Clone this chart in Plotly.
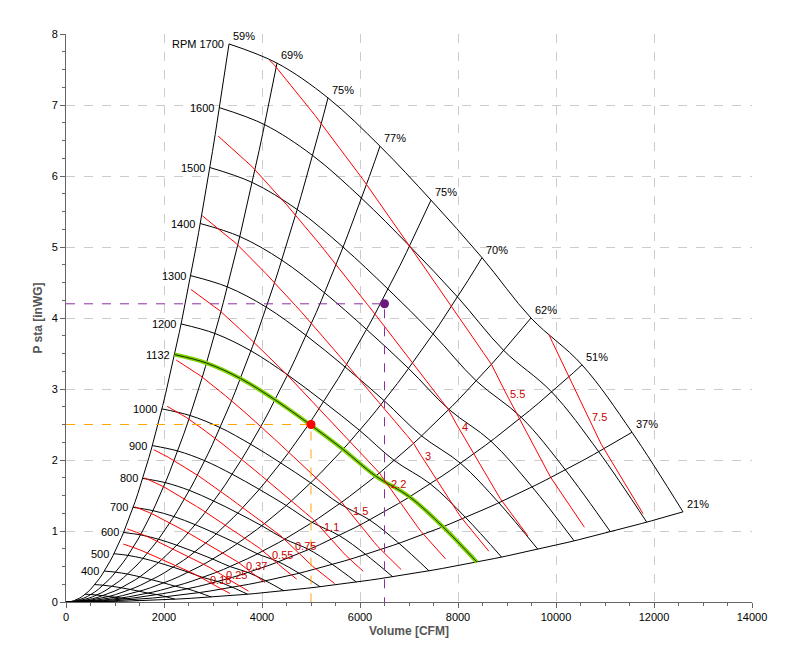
import numpy as np
import plotly.graph_objects as go

# fan curve at 1700 RPM, read at the efficiency lines
eff_labels = ["59%", "69%", "75%", "77%", "75%", "70%", "62%", "51%", "37%", "21%"]
eff_vals = [0.59, 0.69, 0.75, 0.77, 0.75, 0.70, 0.62, 0.51, 0.37, 0.21]
base_q = [3327, 4306, 5347, 6408, 7449, 8490, 9490, 10531, 11551, 12592]
base_p = [7.86, 7.59, 7.10, 6.42, 5.66, 4.85, 4.00, 3.34, 2.39, 1.27]
base_rpm = 1700

rpm_list = [1700, 1600, 1500, 1400, 1300, 1200, 1000, 900, 800, 700, 600, 500, 400, 300, 200, 100]
rpm_labels = ["RPM 1700", "1600", "1500", "1400", "1300", "1200", "1000", "900", "800", "700", "600", "500", "400", "", "", ""]
work_rpm = 1132

power_kw = [0.18, 0.25, 0.37, 0.55, 0.75, 1.1, 1.5, 2.2, 3, 4, 5.5, 7.5]
power_labels = ["0.18", "0.25", "0.37", "0.55", "0.75", "1.1", "1.5", "2.2", "3", "4", "5.5", "7.5"]

op_points = [(5000, 2.5, "orange", "red"), (6500, 4.2, "#8b2fa0", "#6a1b7a")]

bq = np.array(base_q, float)
bp = np.array(base_p, float)
bpow = bq * bp / np.array(eff_vals) / 6356 * 0.7457  # kW at 1700 rpm

fig = go.Figure()


def curve(n):
    r = n / base_rpm
    return bq * r, bp * r * r


# efficiency lines (fan law parabolas)
ns = np.linspace(0, base_rpm, 60)
for i in range(len(bq)):
    r = ns / base_rpm
    fig.add_trace(go.Scatter(x=bq[i] * r, y=bp[i] * r * r, mode="lines",
                             line=dict(color="black", width=1), hoverinfo="skip"))
    fig.add_annotation(x=bq[i], y=bp[i], text=eff_labels[i], showarrow=False,
                       xanchor="left", yanchor="bottom", xshift=2,
                       font=dict(size=11, color="black"))

# rpm curves
for n, lab in zip(rpm_list, rpm_labels):
    q, p = curve(n)
    fig.add_trace(go.Scatter(x=q, y=p, mode="lines", line=dict(color="black", width=1, shape="spline"),
                             hoverinfo="skip"))
    if lab:
        fig.add_annotation(x=q[0], y=p[0], text=lab, showarrow=False, xanchor="right",
                           xshift=-3, font=dict(size=11, color="black"))

q, p = curve(work_rpm)
fig.add_trace(go.Scatter(x=q, y=p, mode="lines", line=dict(color="#7fd400", width=4, shape="spline"),
                         hoverinfo="skip"))
fig.add_trace(go.Scatter(x=q, y=p, mode="lines", line=dict(color="#1a3300", width=1, shape="spline"),
                         hoverinfo="skip"))
fig.add_annotation(x=q[0], y=p[0], text=str(work_rpm), showarrow=False, xanchor="right",
                   xshift=-3, font=dict(size=11, color="black"))

# constant power lines
nfine = np.linspace(50, base_rpm, 400)
for w, lab in zip(power_kw, power_labels):
    xs, ys = [], []
    for n in nfine:
        r = n / base_rpm
        pw = bpow * r ** 3
        if pw[0] <= w <= pw[-1]:
            k = np.interp(w, pw, np.arange(len(pw)))
            xs.append(np.interp(k, np.arange(len(bq)), bq * r))
            ys.append(np.interp(k, np.arange(len(bp)), bp * r * r))
    if not xs:
        continue
    fig.add_trace(go.Scatter(x=xs, y=ys, mode="lines", line=dict(color="red", width=1),
                             hoverinfo="skip"))
    j = int(len(xs) * 0.3)
    fig.add_annotation(x=xs[j], y=ys[j], text=lab, showarrow=False, xanchor="left",
                       xshift=2, font=dict(size=11, color="#cc0000"))

# operating points
for x0, y0, lc, mc in op_points:
    fig.add_trace(go.Scatter(x=[0, x0, x0], y=[y0, y0, 0], mode="lines",
                             line=dict(color=lc, width=1, dash="dash"), hoverinfo="skip"))
    fig.add_trace(go.Scatter(x=[x0], y=[y0], mode="markers",
                             marker=dict(color=mc, size=9), hoverinfo="skip"))

fig.update_layout(
    template="none",
    width=796, height=663, showlegend=False,
    paper_bgcolor="white", plot_bgcolor="white",
    margin=dict(l=58, r=52, t=26, b=69),
    font=dict(family="Arial, Liberation Sans, sans-serif", size=11, color="black"),
)
fig.update_xaxes(range=[0, 14000], dtick=2000, tickformat="d", showline=True, linecolor="#666",
                 showgrid=True, gridcolor="#cccccc", griddash="dash", zeroline=False,
                 ticks="outside", ticklen=5, tickcolor="#666", automargin=False,
                 minor=dict(dtick=500, ticks="outside", ticklen=3, tickcolor="#666", showgrid=False),
                 title=dict(text="<b>Volume [CFM]</b>", standoff=4, font=dict(size=12, color="#555")))
fig.update_yaxes(range=[0, 8], dtick=1, showline=True, linecolor="#666",
                 showgrid=True, gridcolor="#cccccc", griddash="dash", zeroline=False,
                 ticks="outside", ticklen=5, tickcolor="#666", automargin=False,
                 minor=dict(dtick=0.25, ticks="outside", ticklen=3, tickcolor="#666", showgrid=False),
                 title=dict(text="<b>P sta [inWG]</b>", standoff=6, font=dict(size=12, color="#555")))

fig.write_html("out.html")
